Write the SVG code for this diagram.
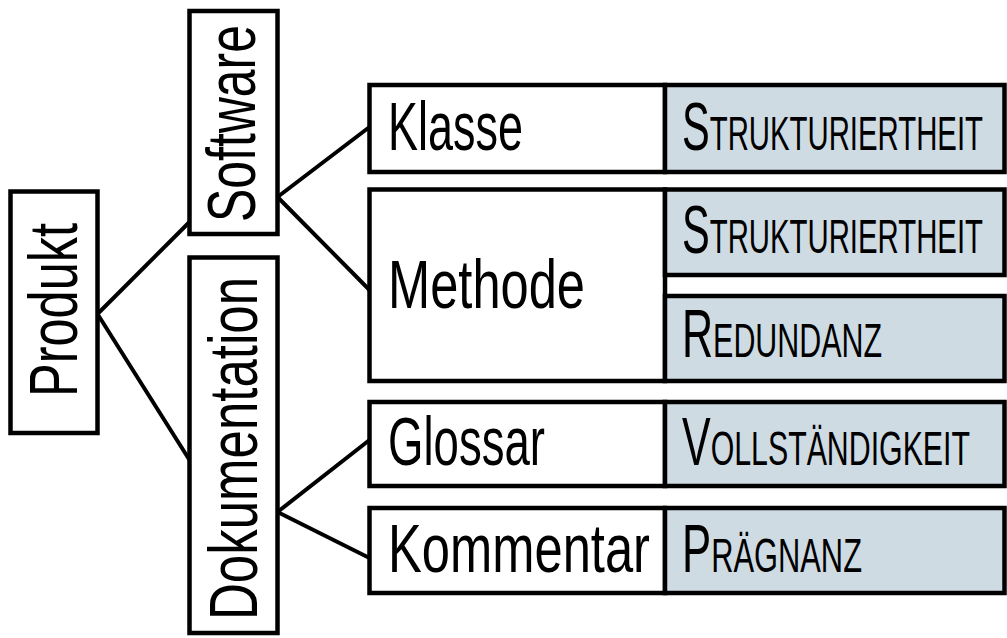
<svg xmlns="http://www.w3.org/2000/svg" width="1007" height="638" viewBox="0 0 1007 638">
<style>
.box{fill:#ffffff;stroke:#000;stroke-width:4.5}
.q{fill:#cfdbe3;stroke:#000;stroke-width:4.5}
.lbl{font-family:"Liberation Sans",Arial,sans-serif;font-size:68px;fill:#000}
.sc{font-variant:small-caps}
.conn line{stroke:#000;stroke-width:4;stroke-linecap:round}
</style>
<rect width="1007" height="638" fill="#fff"/>
<g class="conn" id="connectors">
<line x1="97.5" y1="314" x2="189.5" y2="222"/>
<line x1="97.5" y1="314" x2="189.5" y2="460"/>
<line x1="277.5" y1="197" x2="369.5" y2="127"/>
<line x1="277.5" y1="197" x2="369.5" y2="290"/>
<line x1="277.5" y1="512" x2="369.5" y2="440"/>
<line x1="277.5" y1="512" x2="369.5" y2="558"/>
</g>
<g id="produkt">
<rect class="box" x="10.5" y="191.5" width="87" height="241.5"/>
<text class="lbl" transform="translate(77,397) rotate(-90)" textLength="174" lengthAdjust="spacingAndGlyphs">Produkt</text>
</g>
<g id="software">
<rect class="box" x="189.5" y="11" width="88" height="223"/>
<text class="lbl" transform="translate(255,222) rotate(-90)" textLength="197" lengthAdjust="spacingAndGlyphs">Software</text>
</g>
<g id="dokumentation">
<rect class="box" x="189.5" y="257.5" width="88" height="375.5"/>
<text class="lbl" transform="translate(257,620) rotate(-90)" textLength="343" lengthAdjust="spacingAndGlyphs">Dokumentation</text>
</g>
<g id="klasse">
<rect class="box" x="369.5" y="85" width="295.5" height="87"/>
<text class="lbl" x="388" y="150" textLength="135" lengthAdjust="spacingAndGlyphs">Klasse</text>
</g>
<g id="methode">
<rect class="box" x="369.5" y="189.5" width="295.5" height="191.5"/>
<text class="lbl" x="388" y="308" textLength="197" lengthAdjust="spacingAndGlyphs">Methode</text>
</g>
<g id="glossar">
<rect class="box" x="369.5" y="402" width="295.5" height="84"/>
<text class="lbl" x="388" y="465" textLength="157" lengthAdjust="spacingAndGlyphs">Glossar</text>
</g>
<g id="kommentar">
<rect class="box" x="369.5" y="508" width="295.5" height="85"/>
<text class="lbl" x="388" y="572" textLength="262" lengthAdjust="spacingAndGlyphs">Kommentar</text>
</g>
<g id="strukturiertheit-klasse">
<rect class="q" x="665" y="85" width="339.5" height="87"/>
<text class="lbl sc" x="682" y="150" textLength="301" lengthAdjust="spacingAndGlyphs">Strukturiertheit</text>
</g>
<g id="strukturiertheit-methode">
<rect class="q" x="665" y="189.5" width="339.5" height="85.5"/>
<text class="lbl sc" x="682" y="253" textLength="301" lengthAdjust="spacingAndGlyphs">Strukturiertheit</text>
</g>
<g id="redundanz">
<rect class="q" x="665" y="296" width="339.5" height="85"/>
<text class="lbl sc" x="682" y="357" textLength="200" lengthAdjust="spacingAndGlyphs">Redundanz</text>
</g>
<g id="vollstaendigkeit">
<rect class="q" x="665" y="402" width="339.5" height="84"/>
<text class="lbl sc" x="682" y="465" textLength="288" lengthAdjust="spacingAndGlyphs">Vollständigkeit</text>
</g>
<g id="praegnanz">
<rect class="q" x="665" y="508" width="339.5" height="85"/>
<text class="lbl sc" x="682" y="572" textLength="180" lengthAdjust="spacingAndGlyphs">Prägnanz</text>
</g>
</svg>
